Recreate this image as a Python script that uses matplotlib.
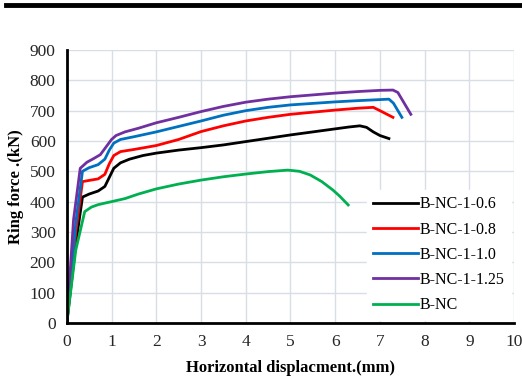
import matplotlib
matplotlib.use('Agg')
import matplotlib.pyplot as plt
from matplotlib.lines import Line2D

plt.rcParams['font.family'] = ['Liberation Serif', 'DejaVu Serif']

# displacement (mm) / ring force (kN)
x_06 = [0, 0.2, 0.35, 0.5, 0.7, 0.85, 0.95, 1.05, 1.2, 1.4, 1.7, 2.0, 2.5, 3.0, 3.5, 4.0, 4.5, 5.0, 5.5, 6.0, 6.3, 6.55, 6.7, 6.85, 7.0, 7.2]
y_06 = [0, 260, 415, 425, 435, 450, 480, 510, 528, 540, 552, 560, 570, 578, 587, 598, 609, 620, 630, 640, 646, 650, 645, 630, 618, 608]

x_08 = [0, 0.2, 0.35, 0.5, 0.7, 0.85, 0.95, 1.05, 1.2, 1.5, 2.0, 2.5, 3.0, 3.5, 4.0, 4.5, 5.0, 5.5, 6.0, 6.5, 6.85, 7.0, 7.29]
y_08 = [0, 300, 466, 470, 475, 490, 525, 552, 565, 572, 585, 605, 631, 650, 666, 678, 688, 695, 702, 708, 711, 700, 678]

x_10 = [0, 0.2, 0.35, 0.5, 0.7, 0.85, 0.95, 1.05, 1.2, 1.5, 2.0, 2.5, 3.0, 3.5, 4.0, 4.5, 5.0, 5.5, 6.0, 6.5, 7.07, 7.2, 7.3, 7.49]
y_10 = [0, 330, 500, 512, 522, 540, 570, 593, 605, 614, 630, 648, 666, 685, 700, 711, 719, 724, 729, 733, 737, 738, 725, 678]

x_125 = [0, 0.15, 0.3, 0.45, 0.6, 0.75, 0.9, 1.0, 1.1, 1.3, 1.6, 2.0, 2.5, 3.0, 3.5, 4.0, 4.5, 5.0, 5.5, 6.0, 6.5, 7.0, 7.29, 7.4, 7.69]
y_125 = [0, 340, 510, 530, 542, 555, 585, 605, 618, 630, 642, 660, 678, 697, 714, 728, 738, 746, 752, 758, 763, 767, 768, 760, 688]

x_nc = [0, 0.2, 0.4, 0.55, 0.7, 1.0, 1.3, 1.6, 2.0, 2.5, 3.0, 3.5, 4.0, 4.5, 4.94, 5.2, 5.44, 5.7, 5.95, 6.1, 6.29]
y_nc = [0, 240, 367, 382, 390, 400, 410, 425, 442, 458, 471, 482, 491, 499, 504, 500, 488, 466, 438, 418, 389]

series = [
    ('B-NC-1-0.6', x_06, y_06, '#000000'),
    ('B-NC-1-0.8', x_08, y_08, '#ff0000'),
    ('B-NC-1-1.0', x_10, y_10, '#0070c0'),
    ('B-NC-1-1.25', x_125, y_125, '#7030a0'),
    ('B-NC', x_nc, y_nc, '#00b050'),
]

fig = plt.figure(figsize=(5.22, 3.79), dpi=100)
ax = fig.add_axes([0.128, 0.148, 0.857, 0.72])

for name, xs, ys, c in series:
    ax.plot(xs, ys, color=c, linewidth=2, label=name, solid_joinstyle='round')

ax.set_xlim(0, 10)
ax.set_ylim(0, 900)
ax.set_xticks(range(0, 11))
ax.set_yticks(range(0, 901, 100))
ax.grid(True, color='#d9dde6', linewidth=1)
ax.set_axisbelow(True)
ax.spines['top'].set_visible(False)
ax.spines['right'].set_visible(False)
ax.spines['left'].set_linewidth(2)
ax.spines['bottom'].set_linewidth(2)
ax.tick_params(length=0, labelsize=12.5, pad=8, labelcolor='#262626')

ax.set_xlabel('Horizontal displacment.(mm)', fontsize=12, fontweight='bold', labelpad=7)
ax.set_ylabel('Ring force .(kN)', fontsize=12, fontweight='bold', labelpad=4)

leg = ax.legend(loc='lower right', bbox_to_anchor=(1.0, 0.0), frameon=True, fancybox=False,
                edgecolor='white', framealpha=1, fontsize=11.5, handlelength=2.8,
                handletextpad=0.1, labelspacing=0.58, borderaxespad=0.2)

# black bar at the top of the figure
fig.add_artist(Line2D([0.012, 1.0], [0.988, 0.988], color='black', linewidth=3.5))

fig.savefig('out.png', dpi=100)
